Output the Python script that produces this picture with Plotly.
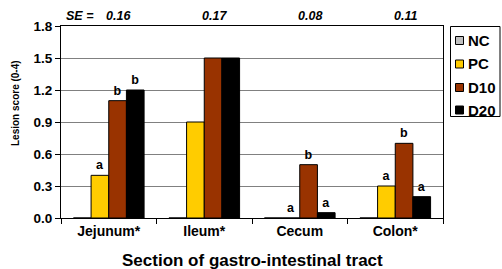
import plotly.graph_objects as go

categories = ["Jejunum*", "Ileum*", "Cecum", "Colon*"]
series_names = ["NC", "PC", "D10", "D20"]
nc = [0, 0, 0, 0]
pc = [0.4, 0.9, 0.0, 0.3]
d10 = [1.1, 1.5, 0.5, 0.7]
d20 = [1.2, 1.5, 0.05, 0.2]
nc_letters = ["", "", "", ""]
pc_letters = ["a", "", "a", "a"]
d10_letters = ["b", "", "b", "b"]
d20_letters = ["b", "", "a", "a"]
se_values = ["0.16", "0.17", "0.08", "0.11"]
y_ticks = [0.0, 0.3, 0.6, 0.9, 1.2, 1.5, 1.8]

colors = ["#C0C0C0", "#FFCC00", "#993300", "#000000"]
values = [nc, pc, d10, d20]
letters = [nc_letters, pc_letters, d10_letters, d20_letters]

FONT = "Arial, Liberation Sans, sans-serif"
W, H = 502, 269
L, R, T, B = 61, 59, 26, 51
PW, PH = W - L - R, H - T - B


def px(x):
    return (x - L) / PW


def py(y):
    return (H - B - y) / PH


fig = go.Figure()
for i, name in enumerate(series_names):
    fig.add_trace(go.Bar(
        x=categories, y=values[i], name=name,
        marker=dict(color=colors[i], line=dict(color="#000000", width=1)),
        text=[f"<b>{t}</b>" if t else "" for t in letters[i]],
        textposition="outside", cliponaxis=False,
        textfont=dict(family=FONT, size=12.5, color="#000000"),
        showlegend=False,
    ))

# SE row
for j, se in enumerate(se_values):
    fig.add_annotation(x=j, y=py(15.5), xref="x", yref="paper", yanchor="middle",
                       text=f"<b><i>{se}</i></b>", showarrow=False, xshift=10,
                       font=dict(family=FONT, size=12.5, color="#000000"))
fig.add_annotation(x=0, y=py(15.5), xref="x", yref="paper", yanchor="middle",
                   text="<b><i>SE =</i></b>", showarrow=False, xshift=-28.5,
                   font=dict(family=FONT, size=12.5, color="#000000"))

# legend (box, swatches, labels)
fig.add_shape(type="rect", xref="paper", yref="paper",
              x0=px(450.5), x1=px(500), y0=py(26.5), y1=py(116.5),
              line=dict(color="#000000", width=1), fillcolor="white", layer="above")
leg_y = [40.5, 64, 87.5, 110]
for i, name in enumerate(series_names):
    cy = leg_y[i]
    fig.add_shape(type="rect", xref="paper", yref="paper",
                  x0=px(455.5), x1=px(463.5), y0=py(cy - 4), y1=py(cy + 4),
                  line=dict(color="#000000", width=1), fillcolor=colors[i], layer="above")
    fig.add_annotation(x=px(466), y=py(cy), xref="paper", yref="paper",
                       xanchor="left", yanchor="middle", showarrow=False,
                       text=f"<b>{name}</b>",
                       font=dict(family=FONT, size=15, color="#000000"))

# axis titles
fig.add_annotation(x=px(15), y=py(103), xref="paper", yref="paper",
                   text="<b>Lesion score (0-4)</b>", textangle=-90, showarrow=False,
                   xanchor="center", yanchor="middle",
                   font=dict(family=FONT, size=10, color="#000000"))
fig.add_annotation(x=px(252.5), y=py(260), xref="paper", yref="paper",
                   text="<b>Section of gastro-intestinal tract</b>", showarrow=False,
                   xanchor="center", yanchor="middle",
                   font=dict(family=FONT, size=17, color="#000000"))

fig.update_layout(
    width=W, height=H,
    margin=dict(l=L, r=R, t=T, b=B, autoexpand=False),
    paper_bgcolor="white", plot_bgcolor="white",
    barmode="group", bargap=0.26, bargroupgap=0,
    font=dict(family=FONT, color="#000000"),
    showlegend=False,
)
fig.update_xaxes(
    showline=True, linecolor="#000000", linewidth=1, mirror=True,
    ticks="outside", tickson="boundaries", ticklen=5, tickcolor="#000000",
    tickfont=dict(family=FONT, size=14, color="#000000", weight="bold"),
)
fig.update_yaxes(
    range=[0, 1.8], tickvals=y_ticks, tickformat=".1f",
    showline=True, linecolor="#000000", linewidth=1, mirror=True,
    ticks="outside", ticklen=5, tickcolor="#000000",
    showgrid=True, gridcolor="#808080", gridwidth=1, zeroline=False,
    tickfont=dict(family=FONT, size=13.5, color="#000000", weight="bold"),
)

fig.write_html("out.html", config={"displayModeBar": False},
               post_script="document.body.style.margin='0';document.body.style.overflow='hidden';")
